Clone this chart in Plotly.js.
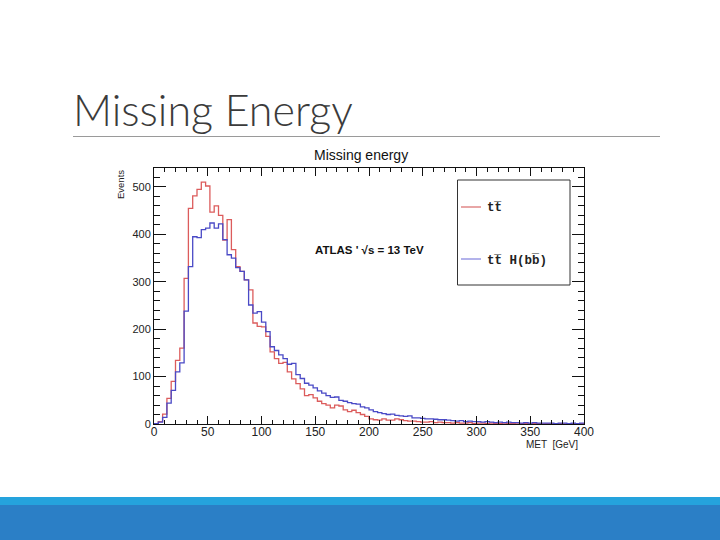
<!DOCTYPE html>
<html><head><meta charset="utf-8">
<script src="https://cdn.plot.ly/plotly-3.0.1.min.js"></script>
<style>html,body{margin:0;padding:0;background:#fff}#chart{width:720px;height:540px}</style>
</head><body><div id="chart"></div>
<script>
// ---- data (100 bins of 4 GeV, 0-400 GeV) ----
const binLow = 0;
const binWidth = 4;
const ttbar = [
  1, 5, 21, 54, 90, 134, 160, 307, 455, 481,
  495, 510, 502, 447, 460, 440, 388, 431, 368, 332,
  322, 304, 283, 213, 206, 205, 185, 152, 138, 128,
  130, 110, 95, 85, 74, 60, 62, 55, 48, 43,
  40, 34, 40, 38, 30, 26, 29, 24, 20, 16,
  11, 9, 8, 11, 8, 8, 11, 9, 7, 6,
  6, 5, 4, 4, 5, 3, 4, 3, 3, 2,
  3, 2, 2, 3, 1, 2, 2, 1, 2, 1,
  1, 2, 1, 1, 0, 1, 1, 0, 1, 1,
  0, 1, 0, 1, 1, 0, 0, 1, 0, 1
];
const ttH = [
  1, 4, 14, 44, 71, 110, 129, 238, 332, 395,
  393, 410, 413, 424, 413, 422, 389, 357, 350, 330,
  322, 304, 251, 234, 237, 215, 195, 163, 155, 146,
  138, 126, 128, 104, 96, 86, 82, 76, 70, 65,
  60, 56, 57, 50, 48, 45, 43, 42, 36, 34,
  30, 26, 24, 22, 20, 21, 18, 17, 16, 17,
  13, 13, 12, 11, 11, 10, 9, 9, 8, 7,
  6, 7, 5, 6, 5, 5, 4, 5, 4, 3,
  4, 3, 4, 3, 3, 2, 3, 2, 3, 2,
  2, 2, 2, 1, 2, 2, 1, 2, 1, 2
];
const xTickVals = [0, 50, 100, 150, 200, 250, 300, 350, 400];
const yTickVals = [0, 100, 200, 300, 400, 500];
const seriesNames = ["tt\u0305", "tt\u0305 H(bb\u0305)"];

// ---- geometry helpers (pixel -> paper) ----
const L = 154, R = 584, T = 168, B = 424;
const ux = p => (p - L) / (R - L);
const uy = p => (B - p) / (B - T);

function stepTrace(vals, color, name) {
  const x = [], y = [];
  for (let i = 0; i < vals.length; i++) { x.push(binLow + i * binWidth); y.push(vals[i]); }
  x.push(binLow + vals.length * binWidth); y.push(vals[vals.length - 1]);
  return {x, y, type: 'scatter', mode: 'lines', name, line: {shape: 'hv', color, width: 1.3}, hoverinfo: 'skip', showlegend: false};
}

const data = [
  stepTrace(ttbar, '#dc5c5c', seriesNames[0]),
  stepTrace(ttH, '#4a4ac6', seriesNames[1])
];

const axisFont = {family: 'Liberation Sans, Arial, sans-serif', size: 12, color: '#222'};

const layout = {
  width: 720, height: 540,
  margin: {l: L, r: 720 - R, t: T, b: 540 - B, pad: 0},
  paper_bgcolor: '#fff', plot_bgcolor: '#fff',
  showlegend: false,
  xaxis: {
    range: [0, 400], tickvals: xTickVals, ticktext: xTickVals.map(String),
    ticks: 'inside', ticklen: 8, tickcolor: '#111', tickwidth: 1, ticklabelstandoff: -3,
    minor: {dtick: 10, ticks: 'inside', ticklen: 4, tickcolor: '#111', showgrid: false},
    showline: true, linecolor: '#111', linewidth: 1, mirror: 'ticks',
    showgrid: false, zeroline: false, tickfont: axisFont, fixedrange: true
  },
  yaxis: {
    range: [0, 540], tickvals: yTickVals, ticktext: yTickVals.map(String),
    ticks: 'inside', ticklen: 12, tickcolor: '#111', tickwidth: 1,
    minor: {dtick: 20, ticks: 'inside', ticklen: 6, tickcolor: '#111', showgrid: false},
    showline: true, linecolor: '#111', linewidth: 1, mirror: 'ticks',
    showgrid: false, zeroline: false, tickfont: Object.assign({}, axisFont, {size: 11}), fixedrange: true
  },
  shapes: [
    // slide separator line
    {type: 'line', xref: 'paper', yref: 'paper', x0: ux(73), x1: ux(660), y0: uy(136.5), y1: uy(136.5), line: {color: '#9a9a9a', width: 1}},
    // bottom bands
    {type: 'rect', xref: 'paper', yref: 'paper', x0: ux(-2), x1: ux(722), y0: uy(497), y1: uy(505), fillcolor: '#25a3dd', line: {width: 0}},
    {type: 'rect', xref: 'paper', yref: 'paper', x0: ux(-2), x1: ux(722), y0: uy(505), y1: uy(542), fillcolor: '#2b7fc6', line: {width: 0}},
    // legend box
    {type: 'rect', xref: 'paper', yref: 'paper', x0: ux(457.5), x1: ux(570), y0: uy(180), y1: uy(285), fillcolor: 'rgba(255,255,255,1)', line: {color: '#333', width: 1}},
    {type: 'line', xref: 'paper', yref: 'paper', x0: ux(461), x1: ux(481), y0: uy(207), y1: uy(207), line: {color: '#e08888', width: 1.5}},
    {type: 'line', xref: 'paper', yref: 'paper', x0: ux(461), x1: ux(481), y0: uy(259), y1: uy(259), line: {color: '#9a9ae4', width: 1.5}}
  ],
  annotations: [
    {text: 'Missing Energy', xref: 'paper', yref: 'paper', x: ux(71), y: uy(109), xanchor: 'left', yanchor: 'middle', showarrow: false,
     font: {family: 'Lato, Open Sans, sans-serif', size: 43, weight: 300, color: '#3b3b3b'}},
    {text: 'Missing energy', xref: 'paper', yref: 'paper', x: ux(361), y: uy(155), xanchor: 'center', yanchor: 'middle', showarrow: false,
     font: {family: 'Liberation Sans, Arial, sans-serif', size: 14, color: '#111'}},
    {text: 'Events', xref: 'paper', yref: 'paper', x: ux(120), y: uy(185), xanchor: 'center', yanchor: 'middle', textangle: -90, showarrow: false,
     font: {family: 'Liberation Sans, Arial, sans-serif', size: 9.5, color: '#222'}},
    {text: 'MET  [GeV]', xref: 'paper', yref: 'paper', x: ux(580), y: uy(444), xanchor: 'right', yanchor: 'middle', showarrow: false,
     font: {family: 'Liberation Sans, Arial, sans-serif', size: 10, color: '#222'}},
    {text: "<b>ATLAS ' \u221As = 13 TeV</b>", xref: 'paper', yref: 'paper', x: ux(313), y: uy(250), xanchor: 'left', yanchor: 'middle', showarrow: false,
     font: {family: 'Liberation Sans, Arial, sans-serif', size: 11.5, color: '#111'}},
    {text: '<b>' + seriesNames[0] + '</b>', xref: 'paper', yref: 'paper', x: ux(485), y: uy(208), xanchor: 'left', yanchor: 'middle', showarrow: false,
     font: {family: 'Liberation Mono, DejaVu Sans Mono, monospace', size: 12.5, color: '#222'}},
    {text: '<b>' + seriesNames[1] + '</b>', xref: 'paper', yref: 'paper', x: ux(485), y: uy(260), xanchor: 'left', yanchor: 'middle', showarrow: false,
     font: {family: 'Liberation Mono, DejaVu Sans Mono, monospace', size: 12.5, color: '#222'}}
  ]
};

Plotly.newPlot('chart', data, layout, {staticPlot: true, displayModeBar: false});
</script>
</body></html>
